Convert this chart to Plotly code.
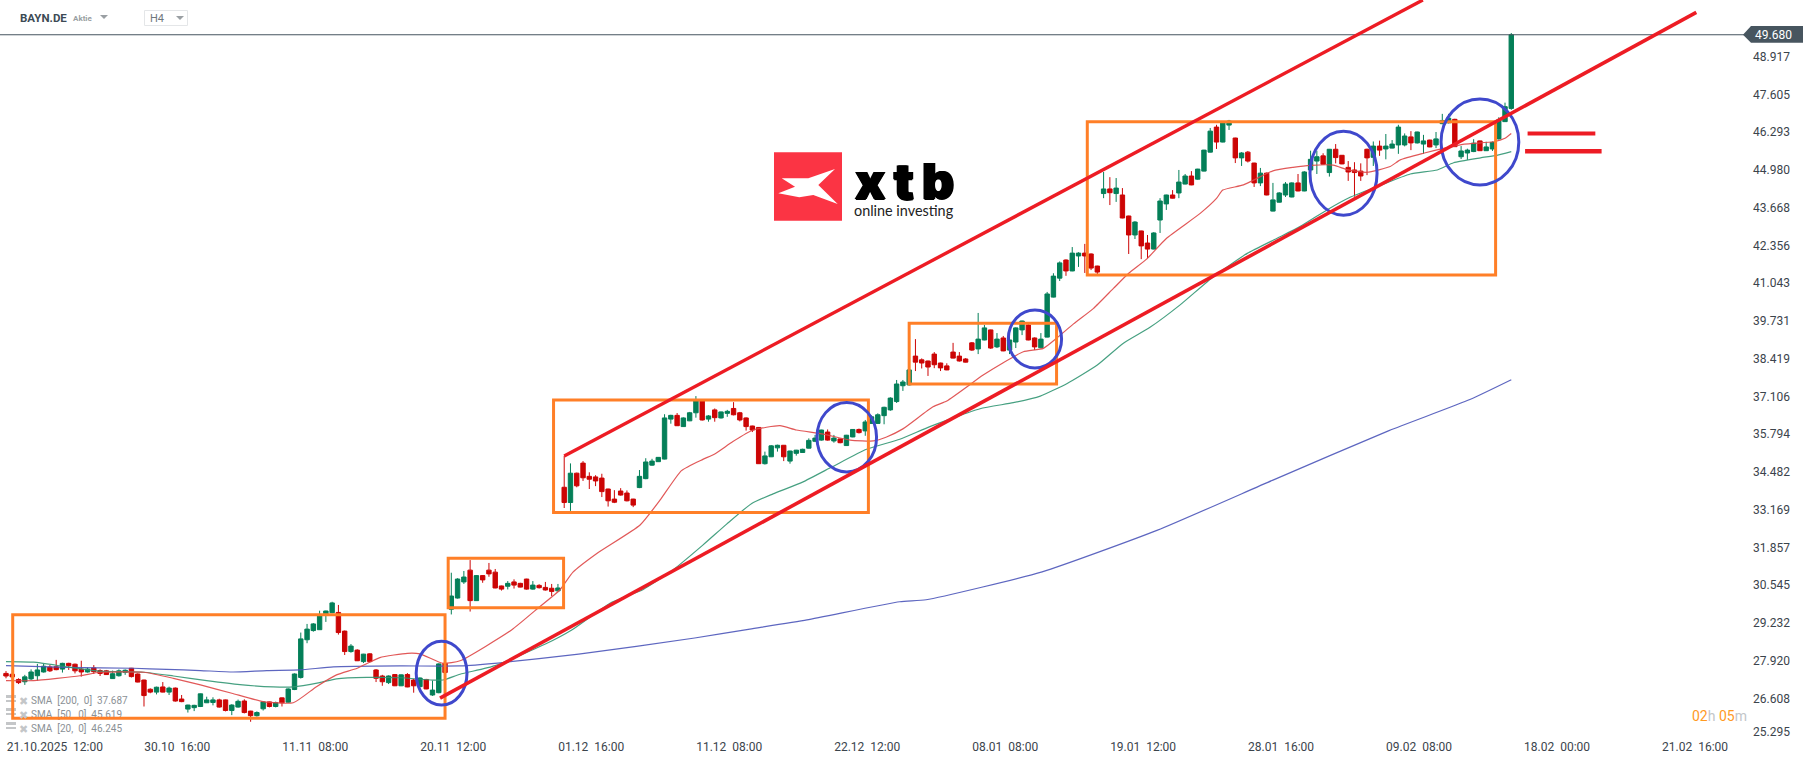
import plotly.graph_objects as go

# ---------- data ----------
opens = [27.48,27.45,27.27,27.19,27.29,27.40,27.53,27.70,27.71,27.63,
27.83,27.80,27.63,27.53,27.67,27.58,27.57,27.30,27.40,27.52,
27.66,27.46,27.25,26.93,26.83,27.01,26.83,26.97,26.59,26.24,
26.29,26.33,26.46,26.47,26.56,26.56,26.19,26.31,26.52,26.17,
26.01,26.25,26.49,26.33,26.63,26.48,26.92,27.34,28.65,28.97,
29.00,29.55,29.59,29.60,28.95,28.24,28.29,27.89,28.16,27.60,
27.39,27.16,27.44,27.05,27.44,27.25,27.02,27.27,26.73,26.81,
27.83,29.71,30.10,30.66,31.07,30.01,30.88,31.07,31.00,30.52,
30.51,30.66,30.61,30.76,30.41,30.54,30.47,30.44,30.35,33.95,
33.42,34.44,34.79,34.33,34.31,34.27,33.89,33.54,33.82,33.75,
33.54,33.94,34.25,34.72,34.84,34.93,36.32,36.45,36.06,36.26,
36.54,36.96,36.32,36.64,36.36,36.52,36.69,36.54,36.36,36.08,
36.03,34.77,35.01,35.32,35.41,34.86,35.13,35.16,35.31,35.55,
35.59,35.87,35.56,35.63,35.40,35.70,35.96,35.91,36.17,36.17,
36.44,36.64,36.93,37.48,37.51,38.51,38.38,38.34,38.58,38.27,
38.17,38.65,38.51,38.41,38.97,38.76,39.07,39.42,38.83,39.14,
38.72,39.00,39.42,39.59,39.14,38.80,39.17,40.56,41.22,41.85,
41.47,41.99,42.09,42.06,41.64,44.16,44.32,44.16,44.11,43.38,
42.72,42.86,42.44,42.23,43.24,43.80,44.11,44.18,44.49,44.77,
44.66,44.94,45.60,46.47,45.95,46.54,46.09,45.40,45.60,45.22,
44.53,44.87,43.55,43.86,44.11,44.04,44.53,44.25,44.98,45.29,
45.47,44.89,45.70,45.49,45.07,44.98,44.94,45.70,45.42,45.81,
45.71,45.74,45.85,45.85,46.13,45.92,45.88,46.02,45.85,46.59,
46.62,46.74,45.44,45.57,45.62,45.99,45.65,45.71,46.06,46.66,47.12]

highs = [27.56,27.48,27.31,27.43,27.62,27.81,27.81,27.77,27.95,27.85,
27.85,27.82,27.92,27.68,27.77,27.62,27.60,27.58,27.62,27.62,
27.67,27.48,27.26,26.96,27.02,27.18,27.02,26.99,26.73,26.39,
26.39,26.78,26.67,26.65,26.60,26.57,26.41,26.57,26.58,26.18,
26.16,26.51,26.50,26.50,26.64,26.96,27.48,28.90,29.20,29.23,
29.66,29.66,29.97,29.86,28.97,28.50,28.32,28.16,28.18,27.63,
27.43,27.41,27.46,27.44,27.49,27.29,27.34,27.29,27.23,27.83,
27.85,30.98,30.79,31.04,31.42,30.90,30.90,31.32,31.11,30.53,
30.69,30.75,30.63,30.77,30.69,30.58,30.66,30.59,30.59,35.04,
34.78,34.46,34.86,34.47,34.37,34.42,33.90,33.85,33.92,33.84,
33.55,34.55,34.96,34.94,35.00,36.49,36.47,36.53,36.38,36.57,
37.12,36.98,36.46,36.69,36.58,36.64,36.91,36.57,36.38,36.09,
36.04,35.19,35.42,35.43,35.42,35.22,35.25,35.29,35.65,35.77,
35.95,35.96,35.77,35.64,35.77,35.97,35.99,36.29,36.45,36.52,
36.75,37.08,37.68,37.68,38.04,39.10,38.43,38.35,38.65,38.28,
38.26,38.97,38.65,38.44,39.00,40.01,39.59,39.43,39.31,39.21,
39.18,39.51,39.74,39.62,39.16,39.31,40.74,41.39,41.80,41.87,
42.30,42.12,42.41,42.08,41.65,44.91,44.73,44.70,44.35,43.39,
43.20,42.87,42.72,42.82,44.00,44.12,44.28,44.98,44.84,44.94,
45.02,45.68,46.44,46.55,46.65,46.72,46.10,45.60,45.64,45.23,
45.05,44.89,44.53,44.21,44.56,44.55,44.84,44.94,45.65,45.65,
45.56,45.71,45.88,45.50,45.29,45.25,45.21,45.72,45.97,46.00,
46.23,46.02,46.55,46.25,46.33,46.31,46.20,46.03,46.30,46.93,
46.93,46.76,45.81,45.72,46.05,46.00,45.96,45.97,46.81,47.32,49.74]

lows = [27.31,27.25,27.11,27.08,27.25,27.23,27.51,27.53,27.59,27.51,
27.60,27.48,27.37,27.51,27.46,27.39,27.43,27.29,27.37,27.43,
27.34,27.17,26.33,26.79,26.75,26.82,26.73,26.50,26.48,26.12,
26.17,26.31,26.45,26.37,26.29,26.16,26.03,26.29,26.09,25.80,
25.98,26.19,26.30,26.30,26.33,26.46,26.90,27.30,28.53,28.93,
28.99,29.27,29.57,28.83,28.12,28.20,27.91,27.84,27.86,27.18,
27.05,27.11,27.04,27.04,27.00,26.81,27.00,26.93,26.70,26.79,
27.48,29.53,30.08,30.59,29.63,30.00,30.63,30.84,30.44,30.36,
30.40,30.43,30.47,30.39,30.39,30.43,30.36,30.17,30.33,33.23,
33.13,33.95,34.17,33.89,33.99,33.61,33.28,33.40,33.66,33.46,
33.26,33.92,34.23,34.70,34.83,34.92,36.16,36.08,36.05,36.25,
36.37,36.27,36.23,36.23,36.34,36.40,36.45,36.24,35.92,35.87,
34.76,34.74,35.00,35.19,34.86,34.77,35.05,35.15,35.30,35.52,
35.57,35.57,35.50,35.48,35.39,35.69,35.82,35.74,36.15,36.15,
36.14,36.61,36.88,37.30,37.49,37.99,38.08,37.82,38.09,37.99,
38.02,38.43,38.32,38.29,38.69,38.58,39.06,38.76,38.79,38.68,
38.58,38.79,39.24,39.06,38.72,38.78,39.16,40.55,41.12,41.30,
41.46,41.61,41.40,41.50,41.35,44.00,43.76,43.87,43.30,42.06,
42.58,41.88,41.91,42.22,42.79,43.59,43.99,44.00,44.48,44.45,
44.64,44.93,45.59,45.71,45.94,46.37,45.22,45.12,45.24,44.39,
44.42,44.10,43.54,43.85,44.04,44.03,44.24,44.24,44.78,44.84,
45.17,44.75,45.21,45.18,44.60,44.05,44.60,44.80,45.12,45.47,
45.35,45.73,45.54,45.80,45.67,45.90,45.54,45.77,45.74,46.57,
46.60,45.78,45.36,45.33,45.60,45.64,45.64,45.64,46.04,46.65,47.07]

closes = [27.39,27.36,27.16,27.36,27.53,27.60,27.73,27.57,27.61,27.83,
27.75,27.57,27.53,27.63,27.54,27.48,27.44,27.47,27.57,27.59,
27.37,27.18,26.71,26.83,27.00,26.83,26.97,26.52,26.50,26.38,
26.37,26.77,26.56,26.56,26.31,26.19,26.38,26.51,26.12,26.01,
26.12,26.49,26.33,26.46,26.46,26.94,27.46,28.68,29.02,29.20,
29.50,29.65,29.93,28.90,28.24,28.43,27.92,28.15,27.89,27.31,
27.19,27.39,27.05,27.43,27.01,27.05,27.32,26.94,26.90,27.81,
27.51,30.17,30.76,30.83,30.01,30.88,30.73,30.94,30.45,30.41,
30.61,30.55,30.48,30.41,30.55,30.46,30.38,30.33,30.45,33.42,
34.44,34.00,34.28,34.23,34.17,33.80,33.48,33.43,33.68,33.48,
33.33,34.33,34.83,34.86,34.99,36.36,36.45,36.09,36.36,36.54,
36.96,36.29,36.43,36.37,36.57,36.59,36.47,36.29,36.06,35.94,
34.77,35.04,35.39,35.41,35.01,35.21,35.24,35.27,35.58,35.66,
35.94,35.59,35.66,35.50,35.76,35.96,35.85,36.22,36.40,36.47,
36.73,37.05,37.54,37.61,38.03,38.30,38.27,38.13,38.21,38.10,
38.03,38.44,38.34,38.30,38.72,39.10,39.49,38.79,39.10,38.69,
39.07,39.49,39.73,39.07,38.83,39.10,40.67,41.29,41.75,41.47,
42.09,42.09,41.99,41.57,41.43,44.32,44.19,44.35,43.31,42.72,
43.17,42.34,42.23,42.79,43.90,44.11,44.00,44.56,44.77,44.46,
45.01,45.67,46.33,45.95,46.62,46.68,45.40,45.57,45.29,44.53,
44.87,44.11,43.94,44.18,44.49,44.53,44.25,44.91,45.35,45.44,
45.18,45.70,45.41,45.19,44.91,44.89,44.77,45.40,45.81,45.67,
45.81,45.88,46.47,46.16,45.92,46.30,45.99,45.78,46.06,46.70,
46.78,45.79,45.64,45.67,45.91,45.65,45.78,45.94,46.72,47.18,49.68]

sma20_bar = [0,4.4,11.8,15,22,26.7,31,36,41,45.8,49.5,52.7,56,59.6,64,66,69.7,72.4,80.6,85.1,88.3,90.4,94.2,
101.1,104.3,107.7,111.1,113,115.9,119.1,123.4,126,130.3,134.6,138.3,140.4,143,147.8,150,155.8,159,162.2,
165.4,167.5,170.2,173.4,176.6,179,181.9,185,190.4,193,194,197.3,202,205.2,208,211.6,214,217,220.7,222.3,
226,229.2,232.5,237.2,239,240]
sma20 = [27.23,27.23,27.40,27.52,27.52,27.31,27.08,26.79,26.50,26.46,27.02,27.43,27.66,28.03,28.18,28.16,27.83,27.92,28.99,29.80,30.38,31.00,31.65,
32.64,33.51,34.53,34.92,35.11,35.54,35.94,36.09,35.94,35.80,35.59,35.56,35.70,35.98,36.75,36.95,37.85,38.28,38.66,
38.78,39.13,39.63,40.17,40.87,41.39,41.89,42.60,43.47,43.99,44.28,44.46,44.95,45.07,45.14,45.15,44.98,44.90,45.10,45.33,
45.56,45.73,45.88,45.96,46.08,46.245]

sma50_bar = [0,4.4,9.7,15,22,26.7,32,37.3,42.6,45.8,50,52.7,57.5,62.8,68,69.7,72.4,78,86,90.2,96.3,101.6,106.3,111.1,114.9,118.9,
122.3,127,131.8,137.2,142.5,147.3,155.3,160.6,164.9,169.2,174,178.1,182.4,187.2,192.5,197.9,202.6,206.3,210.6,214.3,218.6,223.9,228.2,230.8,235.1,237.7,240]
sma50 = [27.89,27.87,27.71,27.56,27.52,27.39,27.23,27.09,27.01,27.01,27.16,27.29,27.34,27.33,27.25,27.25,27.45,27.75,28.50,28.99,29.92,30.40,31.07,31.94,32.67,33.39,
33.72,34.13,34.67,35.27,35.62,36.06,36.68,36.89,37.12,37.56,38.20,38.95,39.51,40.29,41.27,42.08,42.60,43.01,43.59,44.03,44.40,44.84,44.98,45.23,45.40,45.49,45.619]

sma200_bar = [0,9.7,20.3,25.6,31,36.2,41.6,46.9,52.2,62.8,72.4,78.4,91.3,109.8,118.6,127.7,142.5,146.7,165.2,183.6,202,220.5,233.4,240]
sma200 = [27.75,27.69,27.66,27.62,27.58,27.53,27.58,27.60,27.71,27.74,27.74,27.84,28.15,28.71,29.02,29.34,29.97,30.04,31.01,32.46,34.20,35.92,37.00,37.687]

y_tick_labels = ["48.917","47.605","46.293","44.980","43.668","42.356","41.043","39.731","38.419","37.106",
                 "35.794","34.482","33.169","31.857","30.545","29.232","27.920","26.608","25.295"]
y_tick_values = [48.917,47.605,46.293,44.980,43.668,42.356,41.043,39.731,38.419,37.106,
                 35.794,34.482,33.169,31.857,30.545,29.232,27.920,26.608,25.45]
x_tick_labels = ["21.10.2025  12:00","30.10  16:00","11.11  08:00","20.11  12:00","01.12  16:00","11.12  08:00",
                 "22.12  12:00","08.01  08:00","19.01  12:00","28.01  16:00","09.02  08:00","18.02  00:00","21.02  16:00"]
x_tick_bars = [7.8,27.3,49.3,71.3,93.3,115.3,137.3,159.3,181.3,203.3,225.3,247.3,269.3]
last_price = 49.68

# ---------- page geometry ----------
FIG_W, FIG_H = 1815, 761
PLOT_W, PLOT_H = 1752, 738
GREEN, RED = "#047f58", "#cc0505"
ORANGE, BLUE, LINE_RED = "#ff7f27", "#3f48cc", "#ed1c24"
TEXT = "#3b444c"
FONT = "Roboto, sans-serif"

def px(x):
    return x / PLOT_W

def py(y):
    return 1 - y / PLOT_H

def poly(points):
    return "M " + " L ".join(f"{px(a):.5f},{py(b):.5f}" for a, b in points) + " Z"

bars = list(range(len(opens)))
fig = go.Figure()
fig.add_trace(go.Candlestick(
    x=bars, open=opens, high=highs, low=lows, close=closes, whiskerwidth=0,
    increasing=dict(line=dict(color=GREEN, width=1), fillcolor=GREEN),
    decreasing=dict(line=dict(color=RED, width=1), fillcolor=RED),
    hoverinfo="skip"))
for xs, ys, colour in [(sma200_bar, sma200, "rgba(75,85,185,0.9)"),
                       (sma50_bar, sma50, "rgba(50,150,115,0.9)"),
                       (sma20_bar, sma20, "rgba(222,70,70,0.9)")]:
    fig.add_trace(go.Scatter(x=xs, y=ys, mode="lines", hoverinfo="skip",
                             line=dict(color=colour, width=1.2, shape="spline", smoothing=0.5)))

fig.add_trace(go.Scatter(
    x=[4, 4, 4], y=[26.50, 26.03, 25.54], mode="text", textposition="middle right",
    text=["SMA\u00a0 [200,\u00a0 0]\u00a0 37.687", "SMA\u00a0 [50,\u00a0 0]\u00a0 45.619", "SMA\u00a0 [20,\u00a0 0]\u00a0 46.245"],
    textfont=dict(family=FONT, size=10, color="#8b9196"), hoverinfo="skip"))

shapes = []
# legend icons
for yy in (699, 712, 726):
    shapes.append(dict(type="rect", xref="paper", yref="paper", x0=px(6), x1=px(16), y0=py(yy - 4), y1=py(yy - 1),
                       fillcolor="#c4c6c8", line_width=0))
    shapes.append(dict(type="rect", xref="paper", yref="paper", x0=px(6), x1=px(16), y0=py(yy + 1), y1=py(yy + 3),
                       fillcolor="#c4c6c8", line_width=0))
# last price line
shapes.append(dict(type="line", xref="paper", yref="y", x0=0, x1=px(1744), y0=last_price, y1=last_price,
                   line=dict(color="#46545f", width=1)))
# price tag
shapes.append(dict(type="path", xref="paper", yref="paper", fillcolor="#47555f", line_width=0,
                   path=poly([(1743, 34.7), (1751, 26), (1803, 26), (1803, 42.7), (1751, 42.7)])))
# orange boxes
for x0, x1, top, bot in [(1.07, 70.0, 29.52, 25.92), (70.5, 88.9, 31.48, 29.76), (87.3, 137.5, 36.98, 33.07),
                         (144.0, 167.5, 39.65, 37.54), (172.4, 237.5, 46.66, 41.33)]:
    shapes.append(dict(type="rect", x0=x0, x1=x1, y0=bot, y1=top, line=dict(color=ORANGE, width=3)))
# blue circles
for x0, x1, top, bot in [(65.4, 73.5, 28.60, 26.38), (129.3, 138.8, 36.90, 34.48), (159.8, 168.3, 40.11, 38.10),
                         (207.9, 218.6, 46.33, 43.41), (228.8, 241.2, 47.45, 44.46)]:
    shapes.append(dict(type="circle", x0=x0, x1=x1, y0=bot, y1=top, line=dict(color=BLUE, width=3)))
# red trend lines and target marks
for x0, y0, x1, y1, w in [(89, 35.04, 225.9, 50.888, 3.4), (69.2, 26.62, 269.5, 50.46, 3.6),
                          (242.6, 46.25, 253.4, 46.25, 4), (242.2, 45.63, 254.4, 45.63, 4.5)]:
    shapes.append(dict(type="line", x0=x0, y0=y0, x1=x1, y1=y1, line=dict(color=LINE_RED, width=w)))
# header controls
shapes.append(dict(type="path", xref="paper", yref="paper", fillcolor="#9a9fa3", line_width=0,
                   path=poly([(100, 15), (108, 15), (104, 19)])))
shapes.append(dict(type="rect", xref="paper", yref="paper", x0=px(144.5), x1=px(187.5), y0=py(25.5), y1=py(10.5),
                   line=dict(color="#e4e6e8", width=1), fillcolor="white"))
shapes.append(dict(type="path", xref="paper", yref="paper", fillcolor="#9a9fa3", line_width=0,
                   path=poly([(176, 16), (184, 16), (180, 20)])))
# logo
shapes.append(dict(type="rect", xref="paper", yref="paper", x0=px(774), x1=px(842), y0=py(220.7), y1=py(152.3),
                   fillcolor="#fb3444", line_width=0))
shapes.append(dict(type="path", xref="paper", yref="paper", fillcolor="white", line_width=0,
                   path=poly([(781.7, 178.3), (808.3, 178.3), (835, 169), (818.3, 185), (837.7, 204),
                              (813.3, 195), (799.3, 197.3), (778.3, 193.3), (795, 186.7)])))

def note(x, y, text, size, color=TEXT, anchor="left", family=FONT, weight=None, shadow=None):
    font = dict(family=family, size=size, color=color)
    if weight:
        font["weight"] = weight
    if shadow:
        font["shadow"] = shadow
    return dict(xref="paper", yref="paper", x=px(x), y=py(y), text=text, showarrow=False,
                xanchor=anchor, yanchor="middle", font=font, borderpad=0, borderwidth=0)

annotations = [
    note(20, 18, "BAYN.DE", 11.5, "#3c4a55", weight=700),
    note(73, 19, "Aktie", 8, "#9a9fa3", weight=700),
    note(150, 19, "H4", 11, "#6f777d"),
    note(1755, 35, "49.680", 12, "white"),
    note(855, 181, "x\u2006t\u2006b", 50, "#000000", family="Inter, sans-serif", weight=900,
         shadow="1px 0 0 #000, -1px 0 0 #000, 0 1px 0 #000"),
    note(854, 210, "online investing", 14.4, "#222222", family="Lato, sans-serif"),
    note(1747, 716, '<span style="color:#ff9a1f">02</span><span style="color:#c2c6c9">h</span> '
                    '<span style="color:#ff9a1f">05</span><span style="color:#c2c6c9">m</span>', 14, anchor="right"),
]
for yy in (701.7, 715, 729.3):
    annotations.append(note(23.5, yy, "✖", 11, "#c4c6c8", anchor="center", family="DejaVu Sans"))

fig.update_layout(
    width=FIG_W, height=FIG_H, autosize=False, showlegend=False,
    margin=dict(l=0, r=FIG_W - PLOT_W, t=0, b=FIG_H - PLOT_H, pad=0),
    paper_bgcolor="white", plot_bgcolor="white", boxgap=0,
    shapes=shapes, annotations=annotations, hovermode=False,
    xaxis=dict(range=[-0.957, 278.38], rangeslider=dict(visible=False), showgrid=False, zeroline=False,
               showline=False, ticks="", tickmode="array", tickvals=x_tick_bars,
               ticktext=[t.replace(" ", "\u00a0") for t in x_tick_labels],
               tickfont=dict(family=FONT, size=12, color=TEXT), tickangle=0, automargin=False),
    yaxis=dict(range=[25.235, 50.888], side="right", showgrid=False, zeroline=False, showline=False, ticks="",
               tickmode="array", tickvals=y_tick_values, ticktext=y_tick_labels,
               tickfont=dict(family=FONT, size=12, color=TEXT), automargin=False),
)

fig.write_html("out.html", config=dict(displayModeBar=False),
               post_script="document.body.style.margin='0';document.body.style.overflow='hidden';")
